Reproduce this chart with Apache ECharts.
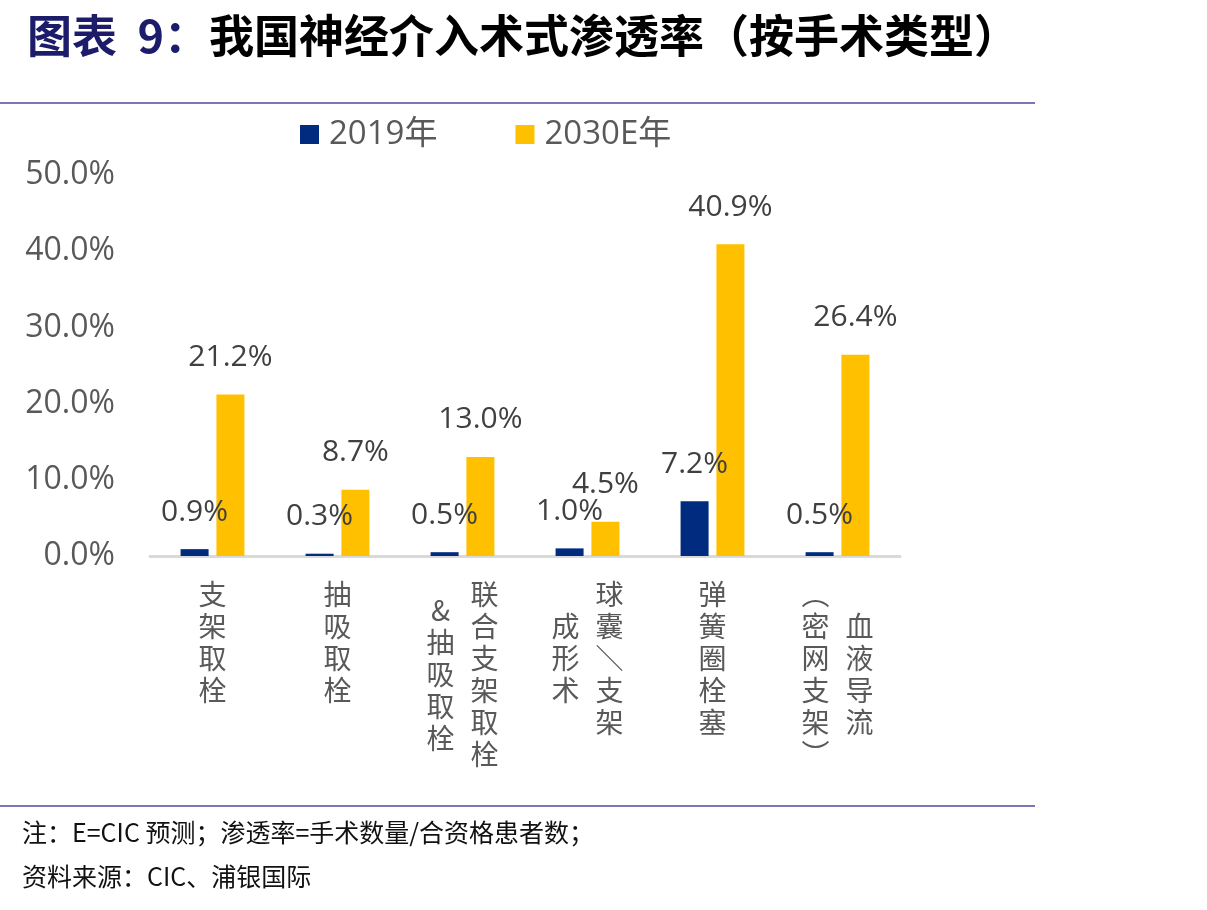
<!DOCTYPE html>
<html>
<head>
<meta charset="utf-8">
<script src="https://cdn.jsdelivr.net/npm/echarts@6/dist/echarts.min.js"></script>
<style>
  html, body { margin: 0; padding: 0; background: #fff; }
  #main { width: 1207px; height: 910px; }
</style>
</head>
<body>
<div id="main"></div>
<script>
var categories = ['支架取栓', '抽吸取栓', '联合支架取栓&抽吸取栓', '球囊/支架成形术', '弹簧圈栓塞', '血液导流（密网支架）'];
// where each label wraps into a second (left) column, 0 = no wrap
var wrapAt = [0, 0, 6, 5, 0, 4];
var seriesNames = ['2019年', '2030E年'];
var data2019 = [0.9, 0.3, 0.5, 1.0, 7.2, 0.5];
var data2030 = [21.2, 8.7, 13.0, 4.5, 40.9, 26.4];
var yTicks = [0, 10, 20, 30, 40, 50];

var FONT = '"Open Sans", "Noto Sans CJK SC", sans-serif';
var CJK = '"Noto Sans CJK SC", sans-serif';

// vertical forms for stacked text
var vmap = { '/': '＼', '（': '︵', '）': '︶' };
function vchars(s) {
  return s.split('').map(function (c) { return vmap[c] || c; });
}

var colRight = [], colLeft = [];
categories.forEach(function (c, i) {
  if (wrapAt[i]) {
    colRight.push(c.slice(0, wrapAt[i]));
    colLeft.push(c.slice(wrapAt[i]));
  } else {
    colRight.push(c);
    colLeft.push('');
  }
});

var LH = 32, SHIFT = 44;
var rich = {
  c: { fontSize: 28, lineHeight: LH, color: '#595959', fontFamily: CJK },
  r: { fontSize: 28, lineHeight: LH, color: '#595959', fontFamily: CJK, padding: [0, 0, 0, SHIFT] },
  l: { fontSize: 28, lineHeight: LH, color: '#595959', fontFamily: CJK, padding: [0, SHIFT, 0, 0] },
  sp16: { fontSize: 2, lineHeight: 16 },
  sp32: { fontSize: 2, lineHeight: 32 }
};

function columnText(i, side) {
  var mine = side === 'r' ? colRight[i] : colLeft[i];
  var other = side === 'r' ? colLeft[i] : colRight[i];
  if (!mine) return '';
  var style = wrapAt[i] ? side : 'c';
  var lines = vchars(mine).map(function (ch) { return '{' + style + '|' + ch + '}'; });
  var diff = other ? (vchars(other).length - vchars(mine).length) : 0;
  if (diff > 0) {
    var pad = diff * LH / 2;
    lines.unshift('{sp' + pad + '| }');
  }
  return lines.join('\n');
}

var myChart = echarts.init(document.getElementById('main'));

var option = {
  animation: false,
  title: {
    left: 22,
    top: 8,
    text: '{a|图表  9：}{b|我国神经介入术式渗透率（按手术类型）}',
    textStyle: {
      rich: {
        a: { fontSize: 45, fontWeight: 'bold', color: '#1c1c6b', fontFamily: CJK },
        b: { fontSize: 45, fontWeight: 'bold', color: '#000000', fontFamily: CJK }
      }
    }
  },
  legend: {
    top: 113,
    left: 295,
    itemGap: 78,
    itemWidth: 19,
    itemHeight: 19,
    icon: 'rect',
    textStyle: { fontSize: 33, color: '#595959', fontFamily: FONT, padding: [0, 0, 0, 5] },
    data: seriesNames
  },
  grid: { left: 150, right: 307, top: 175, bottom: 354 },
  xAxis: [{
    type: 'category',
    data: categories,
    axisLine: { lineStyle: { color: '#d9d9d9', width: 3 } },
    axisTick: { show: false },
    axisLabel: {
      interval: 0,
      margin: 22,
      verticalAlign: 'top',
      formatter: function (v, i) { return columnText(i, 'r'); },
      rich: rich
    }
  }, {
    type: 'category',
    data: categories,
    position: 'bottom',
    axisLine: { show: false },
    axisTick: { show: false },
    axisLabel: {
      interval: 0,
      margin: 22,
      verticalAlign: 'top',
      formatter: function (v, i) { return columnText(i, 'l'); },
      rich: rich
    }
  }],
  yAxis: {
    type: 'value',
    min: yTicks[0],
    max: yTicks[yTicks.length - 1],
    interval: 10,
    splitLine: { show: false },
    axisLine: { show: false },
    axisTick: { show: false },
    axisLabel: {
      margin: 35,
      fontSize: 32,
      color: '#595959',
      fontFamily: FONT,
      formatter: function (v) { return v.toFixed(1) + '%'; }
    }
  },
  series: [{
    name: seriesNames[0],
    type: 'bar',
    xAxisIndex: 0,
    data: data2019,
    barWidth: 28,
    barGap: '28%',
    itemStyle: { color: '#002b7f' },
    label: {
      show: true,
      position: 'top',
      distance: 22,
      fontSize: 30,
      color: '#404040',
      fontFamily: FONT,
      formatter: function (p) { return p.value.toFixed(1) + '%'; }
    }
  }, {
    name: seriesNames[1],
    type: 'bar',
    xAxisIndex: 0,
    data: data2030,
    barWidth: 28,
    itemStyle: { color: '#ffc000' },
    label: {
      show: true,
      position: 'top',
      distance: 22,
      fontSize: 30,
      color: '#404040',
      fontFamily: FONT,
      formatter: function (p) { return p.value.toFixed(1) + '%'; }
    }
  }],
  graphic: [
    { type: 'line', shape: { x1: 0, y1: 103, x2: 1035, y2: 103 }, style: { stroke: '#7d76b3', lineWidth: 2 } },
    { type: 'line', shape: { x1: 0, y1: 806, x2: 1035, y2: 806 }, style: { stroke: '#7d76b3', lineWidth: 2 } },
    { type: 'text', left: 22, top: 820, style: { text: '注：E=CIC 预测；渗透率=手术数量/合资格患者数；', fontSize: 25, fill: '#111', fontFamily: CJK } },
    { type: 'text', left: 22, top: 864, style: { text: '资料来源：CIC、浦银国际', fontSize: 25, fill: '#111', fontFamily: CJK } }
  ]
};

myChart.setOption(option);
</script>
</body>
</html>
